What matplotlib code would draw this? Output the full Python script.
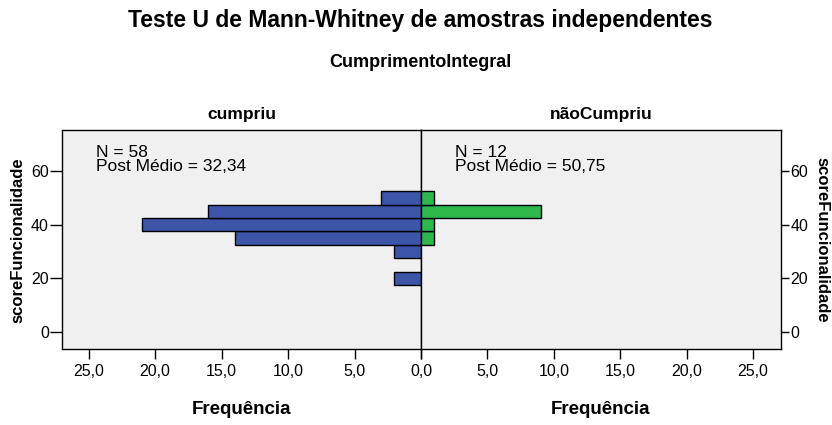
import matplotlib.pyplot as plt
from matplotlib.ticker import FuncFormatter

plt.rcParams['font.family'] = ['Liberation Sans', 'DejaVu Sans']

# score bins (centre of each 5-point class)
bins = [20, 30, 35, 40, 45, 50]
freq_cumpriu = [2, 2, 14, 21, 16, 3]
freq_nao = [0, 0, 1, 1, 9, 1]

groups = ['cumpriu', 'nãoCumpriu']
info = ['N = 58\nPost Médio = 32,34', 'N = 12\nPost Médio = 50,75']
x_ticks = [0, 5, 10, 15, 20, 25]
y_ticks = [0, 20, 40, 60]

blue = '#3D55A8'
green = '#2EB84C'
bg = '#F0F0F0'

fig = plt.figure(figsize=(8.32, 4.25), dpi=100)
ax_l = fig.add_axes([0.0745, 0.1788, 0.4315, 0.5153])
ax_r = fig.add_axes([0.506, 0.1788, 0.4327, 0.5153])

fmt_l = FuncFormatter(lambda v, p: f"{v:.1f}".replace('.', ','))
# the shared 0,0 is only written once
fmt_r = FuncFormatter(lambda v, p: '' if v == 0 else f"{v:.1f}".replace('.', ','))

for ax, freq, col, name, txt, fmt in [(ax_l, freq_cumpriu, blue, groups[0], info[0], fmt_l),
                                       (ax_r, freq_nao, green, groups[1], info[1], fmt_r)]:
    vals = [(b, f) for b, f in zip(bins, freq) if f > 0]
    ax.barh([v[0] for v in vals], [v[1] for v in vals], height=5,
            color=col, edgecolor='black', linewidth=1.0, zorder=3)
    ax.set_facecolor(bg)
    ax.set_ylim(-6.3, 75.3)
    ax.set_xticks(x_ticks)
    ax.xaxis.set_major_formatter(fmt)
    ax.set_yticks(y_ticks)
    ax.tick_params(direction='out', width=1, labelsize=11.5, colors='black')
    ax.tick_params(axis='x', length=7.5, pad=3)
    for s in ax.spines.values():
        s.set_linewidth(1)
    ax.set_xlabel('Frequência', fontsize=13.5, fontweight='bold', labelpad=16)
    ax.set_title(name, fontsize=12.5, fontweight='bold', pad=8)
    ax.text(0.095, 0.93, txt, transform=ax.transAxes, fontsize=12.5,
            va='top', ha='left', linespacing=0.9)

ax_l.set_xlim(27, 0)
ax_r.set_xlim(0, 27.1)
ax_l.tick_params(axis='y', length=8.5, pad=1)
ax_r.yaxis.tick_right()
ax_r.tick_params(axis='y', length=6, pad=1)

fig.text(18 / 832, 0.435, 'scoreFuncionalidade', rotation=90, ha='center', va='center',
         fontsize=12, fontweight='bold')
fig.text(822 / 832, 0.435, 'scoreFuncionalidade', rotation=-90, ha='center', va='center',
         fontsize=12, fontweight='bold')

fig.text(0.505, 0.952, 'Teste U de Mann-Whitney de amostras independentes',
         ha='center', va='center', fontsize=16.5, fontweight='bold')
fig.text(0.505, 0.852, 'CumprimentoIntegral', ha='center', va='center',
         fontsize=13, fontweight='bold')

fig.savefig('out.png', dpi=100)
